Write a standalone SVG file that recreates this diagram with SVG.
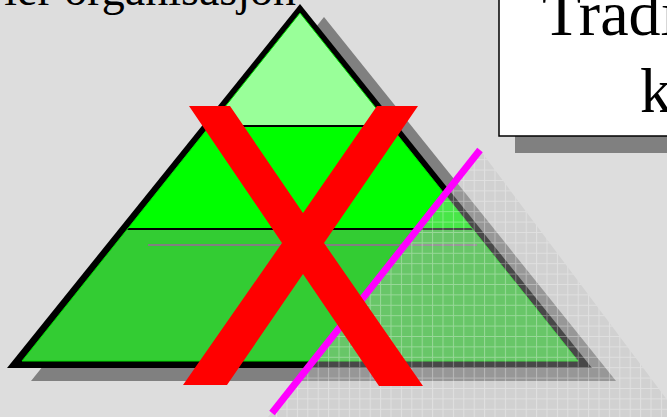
<svg xmlns="http://www.w3.org/2000/svg" width="667" height="417" viewBox="0 0 667 417">
  <style>
    .txt { font-family: "Liberation Serif", "Times New Roman", serif; fill: #000; }
    .divider { stroke: #000; stroke-width: 2; }
  </style>
  <defs>
    <clipPath id="inner">
      <polygon points="300,13 22,361 578,361"/>
    </clipPath>
    <pattern id="grid" patternUnits="userSpaceOnUse" x="567.3" y="336" width="10.4" height="10.4">
      <rect width="10.4" height="10.4" fill="#bebebe" fill-opacity="0.38"/>
      <path d="M0,0.5 H10.4 M0.5,0 V10.4" stroke="#ffffff" stroke-opacity="0.32" stroke-width="1" fill="none"/>
    </pattern>
  </defs>
  <rect width="667" height="417" fill="#dddddd"/>

  <g id="title-left">
    <text class="txt" x="296" y="5" font-size="46" text-anchor="end">ler organisasjon</text>
  </g>

  <g id="box-right">
    <rect x="515" y="20" width="170" height="133" fill="#808080"/>
    <rect x="499" y="-10" width="180" height="146" fill="#ffffff" stroke="#000" stroke-width="1.5"/>
    <text class="txt" x="542" y="35" font-size="64">Tradi</text>
    <text class="txt" x="640" y="112" font-size="64">k</text>
  </g>

  <g id="pyramid">
    <polygon points="324,17 31,381 616,381" fill="#808080"/>
    <polygon points="300,4 7,368 592,368" fill="#000"/>
    <g clip-path="url(#inner)">
      <rect x="0" y="0" width="667" height="126" fill="#99ff99"/>
      <rect x="0" y="126" width="667" height="102" fill="#00ff00"/>
      <rect x="0" y="228" width="667" height="140" fill="#33cc33"/>
      <line class="divider" x1="0" y1="126" x2="667" y2="126"/>
      <line class="divider" x1="0" y1="229" x2="667" y2="229"/>
    </g>
    <polygon points="300,13 22,361 578,361" fill="none" stroke="#00e000" stroke-width="1"/>
    <line x1="148" y1="245" x2="477" y2="245" stroke="#808080" stroke-width="2"/>
  </g>

  <g id="faded-region">
    <polygon points="480,150 680,417 268,417" fill="url(#grid)"/>
  </g>

  <g id="connectors">
    <line x1="480" y1="150" x2="272" y2="413" stroke="#ff00ff" stroke-width="7"/>
  </g>

  <g id="cross">
    <polygon points="189,106 230,106 303,213 377,106 418,106 324,243 423,386 379,386 303,274 227,385 183,385 282,243" fill="#ff0000"/>
  </g>
</svg>
